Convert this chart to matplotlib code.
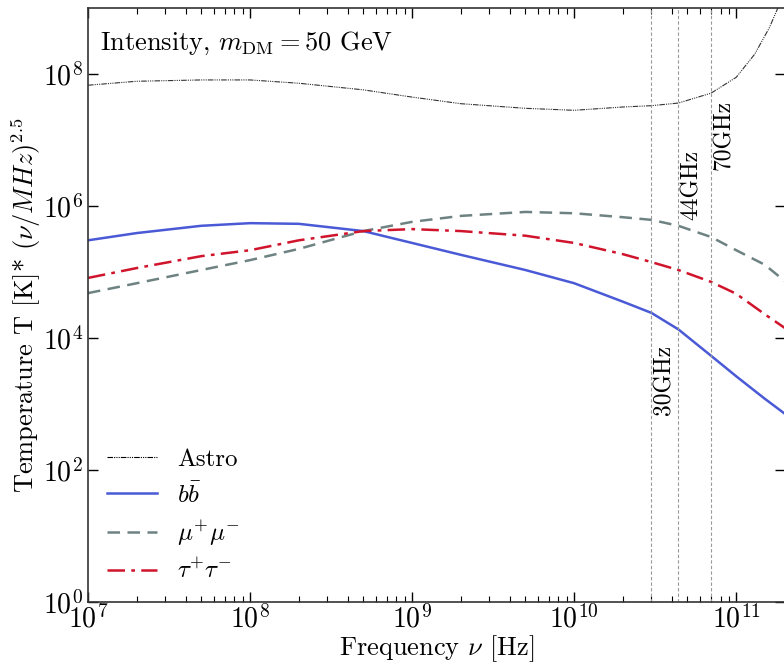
import numpy as np
import matplotlib
matplotlib.use("Agg")
import matplotlib.pyplot as plt
from matplotlib.ticker import LogLocator, NullLocator

plt.rcParams['font.family'] = 'serif'
plt.rcParams['font.serif'] = ['cmr10', 'DejaVu Serif']
plt.rcParams['mathtext.fontset'] = 'cm'
plt.rcParams['axes.formatter.use_mathtext'] = True

# frequency grid [Hz]
freq = [1e7, 2e7, 5e7, 1e8, 2e8, 5e8, 1e9, 2e9, 5e9, 1e10, 2e10, 3e10,
        4.4e10, 7e10, 1e11, 1.5e11, 2e11]

# log10 of T*(nu/MHz)^2.5
log_bb = [5.48, 5.59, 5.70, 5.74, 5.73, 5.62, 5.44, 5.26, 5.03, 4.83, 4.55,
          4.38, 4.13, 3.73, 3.42, 3.08, 2.85]
log_mumu = [4.68, 4.83, 5.03, 5.18, 5.35, 5.62, 5.76, 5.85, 5.91, 5.89, 5.83,
            5.79, 5.70, 5.53, 5.33, 5.11, 4.86]
log_tautau = [4.91, 5.06, 5.24, 5.33, 5.48, 5.62, 5.65, 5.62, 5.55, 5.44, 5.27,
              5.15, 5.03, 4.85, 4.67, 4.36, 4.15]

astro_freq = [1e7, 2e7, 5e7, 1e8, 2e8, 5e8, 1e9, 2e9, 5e9, 1e10, 2e10, 3e10,
              4.4e10, 7e10, 1e11, 1.3e11, 1.6e11, 2e11]
log_astro = [7.83, 7.89, 7.91, 7.91, 7.86, 7.76, 7.65, 7.55, 7.48, 7.45, 7.50,
             7.52, 7.56, 7.71, 7.95, 8.30, 8.70, 9.25]

planck_freq = [3e10, 4.4e10, 7e10]
planck_labels = ['30GHz', '44GHz', '70GHz']
label_y = [2.3e3, 2.1e6, 1.2e7]

fig = plt.figure(figsize=(7.84, 6.67), dpi=100)
ax = fig.add_axes([88 / 784, 65 / 667, (785 - 88) / 784, (602 - 8) / 667])

ax.plot(astro_freq, 10 ** np.array(log_astro), color='#333333', lw=0.8,
        dashes=(5, 1, 1, 1, 1, 1, 1, 1), label='Astro')
ax.plot(freq, 10 ** np.array(log_bb), color='#4a5ad6', lw=1.8, label=r'$b\bar{b}$')
ax.plot(freq, 10 ** np.array(log_mumu), color='#6f8282', lw=1.8, ls='--',
        dashes=(5, 3), label=r'$\mu^{+}\mu^{-}$')
ax.plot(freq, 10 ** np.array(log_tautau), color='#d0142c', lw=1.8,
        dashes=(7, 2.5, 1.5, 2.5), label=r'$\tau^{+}\tau^{-}$')

for f, lab, yl in zip(planck_freq, planck_labels, label_y):
    ax.axvline(f, color='#999999', lw=0.8, ls='--', dashes=(3, 2))
    ax.text(f * 1.03, yl, lab, rotation=90, ha='left', va='center', fontsize=17)

ax.set_xscale('log')
ax.set_yscale('log')
ax.set_xlim(1e7, 2e11)
ax.set_ylim(1, 1e9)
ax.set_yticks([1e0, 1e2, 1e4, 1e6, 1e8])
ax.yaxis.set_minor_locator(NullLocator())
ax.xaxis.set_major_locator(LogLocator(base=10, numticks=20))
ax.xaxis.set_minor_locator(LogLocator(base=10, subs=np.arange(2, 10), numticks=20))

ax.tick_params(which='both', direction='in', top=True, right=True, labelsize=20)
ax.tick_params(axis='x', which='major', pad=2)
ax.tick_params(which='major', length=7, width=1)
ax.tick_params(which='minor', length=4, width=0.8)
for s in ax.spines.values():
    s.set_linewidth(1.2)
    s.set_color('#333333')

ax.set_xlabel(r'Frequency $\nu$ [Hz]', fontsize=19, labelpad=0)
ax.set_ylabel(r'Temperature T [K]* $(\nu/MHz)^{2.5}$', fontsize=19, labelpad=0)

ax.text(0.017, 0.94, r'Intensity, $m_{\mathrm{DM}} = 50$ GeV', transform=ax.transAxes,
        fontsize=19, ha='left', va='center')

leg = ax.legend(loc='lower left', frameon=False, fontsize=18, handlelength=2.0,
                handletextpad=0.8, labelspacing=0.45, borderaxespad=0.3,
                borderpad=0.45)
leg.get_lines()[0].set_color('k')

fig.savefig('out.png', dpi=100)
